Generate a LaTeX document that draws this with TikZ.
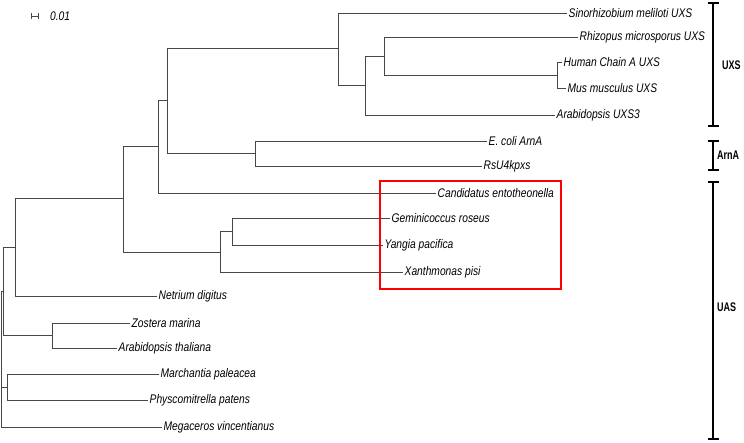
\documentclass[tikz,border=0pt]{standalone}
\usepackage{fontspec}
\setmainfont{Liberation Sans}[FakeStretch=0.82]
\newfontfamily\groupfont{Liberation Sans}[FakeStretch=0.72]
\usetikzlibrary{arrows.meta}

\tikzset{
	branch/.style={draw=black!72, line width=0.9pt},
	leaf/.style={anchor=west, inner sep=0pt, inner xsep=1.5pt, font=\fontsize{12.5}{14}\selectfont\itshape},
	bracket/.style={line width=1.8pt, {Bar[width=11pt]}-{Bar[width=11pt]}},
	group/.style={anchor=west, inner sep=0pt, font=\groupfont\fontsize{12.5}{14}\selectfont\bfseries}
}

\begin{document}
\begin{tikzpicture}[x=1pt, y=-1pt]
			\useasboundingbox (0,0) rectangle (744,442);
			% scale bar
			\coordinate (s1) at (31,16);
			\coordinate (s2) at (39,16);
			\draw [branch, {Bar[width=6pt]}-{Bar[width=6pt]}] (s1) -- (s2);
			\node [leaf, inner xsep=0pt] (scale) at (50,16) {0.01};
			% leaves
			\node [leaf] (sino) at (567,13) {Sinorhizobium meliloti UXS};
			\node [leaf] (rhizo) at (578,37) {Rhizopus microsporus UXS};
			\node [leaf] (human) at (562,62) {Human Chain A UXS};
			\node [leaf] (mus) at (566,88) {Mus musculus UXS};
			\node [leaf] (arabuxs) at (555,115) {Arabidopsis UXS3};
			\node [leaf] (ecoli) at (487,141) {E. coli ArnA};
			\node [leaf] (rsu) at (482,166) {RsU4kpxs};
			\node [leaf] (cand) at (436,193) {Candidatus entotheonella};
			\node [leaf] (gemini) at (390,218) {Geminicoccus roseus};
			\node [leaf] (yangia) at (383,245) {Yangia pacifica};
			\node [leaf] (xanth) at (403,272) {Xanthmonas pisi};
			\node [leaf] (netrium) at (157,296) {Netrium digitus};
			\node [leaf] (zostera) at (130,323) {Zostera marina};
			\node [leaf] (arabthal) at (117,348) {Arabidopsis thaliana};
			\node [leaf] (march) at (159,374) {Marchantia paleacea};
			\node [leaf] (physco) at (148,400) {Physcomitrella patens};
			\node [leaf] (mega) at (162,427) {Megaceros vincentianus};
			% inner nodes
			\coordinate (root) at (1.5,359);
			\coordinate (nL) at (3,291);
			\coordinate (nK) at (15,247.5);
			\coordinate (nH) at (123,198.5);
			\coordinate (nG) at (158,146.5);
			\coordinate (nE) at (167,100);
			\coordinate (nA) at (338,48);
			\coordinate (nB) at (365,85);
			\coordinate (nC) at (384,56);
			\coordinate (nD) at (557,75);
			\coordinate (nF) at (255,153.5);
			\coordinate (nI) at (220,252);
			\coordinate (nJ) at (232,231.5);
			\coordinate (nM) at (52,335.5);
			\coordinate (nN) at (7,387);
			% branches
			\draw [branch] (root) |- (nL) (root) |- (nN) (root) |- (mega.west);
			\draw [branch] (nL) |- (nK) (nL) |- (nM);
			\draw [branch] (nK) |- (nH) (nK) |- (netrium.west);
			\draw [branch] (nH) |- (nG) (nH) |- (nI);
			\draw [branch] (nG) |- (nE) (nG) |- (cand.west);
			\draw [branch] (nE) |- (nA) (nE) |- (nF);
			\draw [branch] (nA) |- (sino.west) (nA) |- (nB);
			\draw [branch] (nB) |- (nC) (nB) |- (arabuxs.west);
			\draw [branch] (nC) |- (rhizo.west) (nC) |- (nD);
			\draw [branch] (nD) |- (human.west) (nD) |- (mus.west);
			\draw [branch] (nF) |- (ecoli.west) (nF) |- (rsu.west);
			\draw [branch] (nI) |- (nJ) (nI) |- (xanth.west);
			\draw [branch] (nJ) |- (gemini.west) (nJ) |- (yangia.west);
			\draw [branch] (nM) |- (zostera.west) (nM) |- (arabthal.west);
			\draw [branch] (nN) |- (march.west) (nN) |- (physco.west);
			% highlight box
			\draw [red, line width=1.5pt] (380,181) rectangle (561,289);
			% groups
			\draw [bracket] (713,2) -- (713,127);
			\draw [bracket] (713,140) -- (713,171);
			\draw [bracket] (713,181) -- (713,440);
			\node [group] (uxs) at (722,65) {UXS};
			\node [group] (arna) at (717,155) {ArnA};
			\node [group] (uas) at (717,307) {UAS};
		\end{tikzpicture}
\end{document}
